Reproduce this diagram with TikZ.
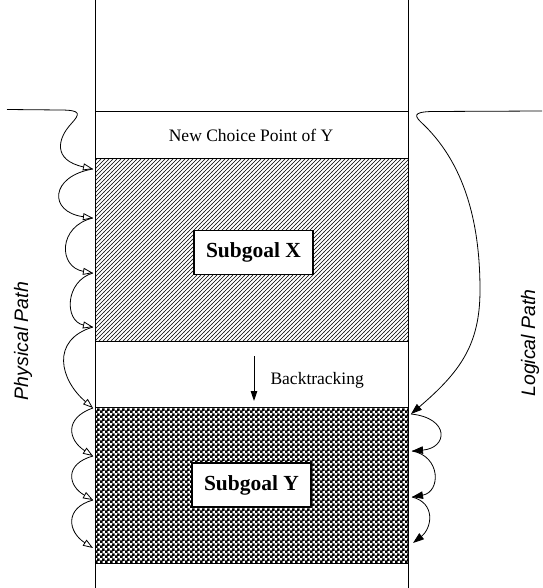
\documentclass[tikz,border=0pt]{standalone}
\usepackage{fontspec}
\setmainfont{Liberation Serif}
\newfontfamily\pathfont{Liberation Sans}
\usetikzlibrary{patterns,arrows.meta}

% fine diagonal hatching for the upper goal
\pgfdeclarepatternformonly{finehatch}{\pgfqpoint{-1pt}{-1pt}}{\pgfqpoint{5pt}{5pt}}{\pgfqpoint{4pt}{4pt}}{%
  \pgfsetlinewidth{0.6pt}%
  \pgfpathmoveto{\pgfqpoint{-0.1pt}{-0.1pt}}%
  \pgfpathlineto{\pgfqpoint{4.1pt}{4.1pt}}%
  \pgfusepath{stroke}}
% small checkerboard for the lower goal
\pgfdeclarepatternformonly{finechecker}{\pgfpointorigin}{\pgfqpoint{5pt}{5pt}}{\pgfqpoint{5pt}{5pt}}{%
  \pgfpathrectangle{\pgfpointorigin}{\pgfqpoint{3pt}{3pt}}%
  \pgfpathrectangle{\pgfqpoint{2.5pt}{2.5pt}}{\pgfqpoint{3pt}{3pt}}%
  \pgfusepath{fill}}

\begin{document}
\begin{tikzpicture}[x=1pt,y=-1pt,
  rail/.style={line width=0.9pt},
  band/.style={draw, line width=1.4pt, minimum width=313pt, inner sep=0pt, anchor=north west},
  goal/.style={draw, fill=white, line width=1.3pt, inner sep=0pt,
    minimum width=119pt, minimum height=44pt,
    font=\bfseries\fontsize{21.5}{24}\selectfont},
  lbl/.style={font=\fontsize{17.5}{20}\selectfont},
  side/.style={font=\pathfont\itshape\fontsize{19.5}{22}\selectfont, rotate=90},
  phys/.style={-{Triangle[open,length=10pt,width=7pt]}, line width=0.8pt},
  logi/.style={-{Triangle[length=11pt,width=7.5pt]}, line width=0.8pt},
  back/.style={-{Triangle[length=10pt,width=6.5pt]}, line width=0.9pt}]
\useasboundingbox (0,0) rectangle (542,588);

% stack frames
\node[band, minimum height=47pt] (top) at (95,111) {};
\node[band, minimum height=183pt, pattern=finehatch] (xarea) at (95,158) {};
\node[band, minimum height=66pt] (gap) at (95,341) {};
\node[band, minimum height=156pt, pattern=finechecker] (yarea) at (95,407) {};

% the two rails of the stack
\draw[rail] (95,0) -- (95,588);
\draw[rail] (408,0) -- (408,588);

% labels
\node[lbl] (ncp) at (251,135) {New Choice Point of Y};
\node[goal] (gx) at (253.5,252.5) {Subgoal X};
\node[goal] (gy) at (251.5,485) {Subgoal Y};
\node[lbl, anchor=west] (bt) at (267,380) {Backtracking};
\node[side] (pp) at (23,341) {Physical Path};
\node[side] (lp) at (530,343) {Logical Path};

% backtracking arrow
\coordinate (b0) at (254,356);
\coordinate (b1) at (254,401);
\draw[back] (b0) -- (b1);

% physical path: points on the left rail
\coordinate (p0) at (7,109.5);
\coordinate (p1) at (93,169);
\coordinate (p2) at (93,218);
\coordinate (p3) at (93,273);
\coordinate (p4) at (93,327);
\coordinate (p5) at (93,408);
\coordinate (p6) at (93,456);
\coordinate (p7) at (93,500);
\coordinate (p8) at (93,548);

\draw[phys] (p0) -- (60,110) .. controls (82,110) and (80,114) .. (71,124)
  .. controls (58,138) and (52,160) .. (p1);
\draw[phys] (p1) .. controls (50,176) and (48,212) .. (p2);
\draw[phys] (p2) .. controls (58,226) and (58,267) .. (p3);
\draw[phys] (p3) .. controls (65,281) and (64,321) .. (p4);
\draw[phys] (p4) .. controls (50,340) and (60,380) .. (p5);
\draw[phys] (p5) .. controls (64,418) and (68,440) .. (p6);
\draw[phys] (p6) .. controls (64,464) and (68,486) .. (p7);
\draw[phys] (p7) .. controls (64,508) and (68,532) .. (p8);

% logical path: points on the right rail
\coordinate (q0) at (542,111);
\coordinate (q1) at (411,414);
\coordinate (q2) at (412,451);
\coordinate (q3) at (412,497);
\coordinate (q4) at (413,543);

\draw[logi] (q0) -- (432,111.5) .. controls (412,112) and (414,116) .. (424,125)
  .. controls (468,168) and (480,230) .. (480,290)
  .. controls (480,345) and (460,372) .. (q1);
\draw[logi] (q1) .. controls (450,418) and (448,448) .. (q2);
\draw[logi] (q2) .. controls (441,456) and (441,492) .. (q3);
\draw[logi] (q3) .. controls (436,503) and (432,528) .. (q4);
\end{tikzpicture}
\end{document}
